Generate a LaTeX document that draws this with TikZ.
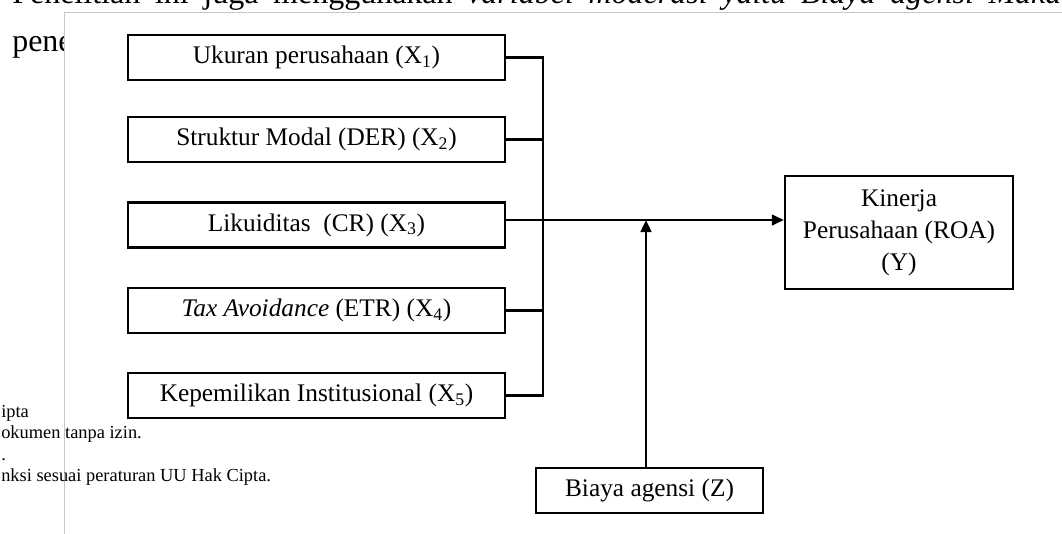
\documentclass[tikz,border=0pt]{standalone}
\usepackage{fontspec}
\setmainfont{Liberation Serif}
\usetikzlibrary{arrows.meta}
\begin{document}
\begin{tikzpicture}[x=0.75pt,y=-0.75pt,
  box/.style={draw, line width=1.8pt, inner sep=0pt, align=center, font=\fontsize{19}{24}\selectfont},
  link/.style={line width=1.8pt},
  arr/.style={line width=1.8pt, -{Triangle[length=9pt,width=8pt]}},
  frame/.style={draw=black!22, line width=0.75pt, fill=white},
  bgtext/.style={inner sep=0pt, anchor=base west, font=\fontsize{24}{28}\selectfont},
  foot/.style={inner sep=0pt, anchor=base west, font=\fontsize{13.8}{16}\selectfont}]
\useasboundingbox (0,0) rectangle (1062,533);
% page text behind the figure
\node[bgtext] (top) at (12,3) {\spaceskip=11pt Penelitian ini juga menggunakan \textit{variabel moderasi yaitu Biaya agensi Maka}};
\node[bgtext] (pene) at (12,51) {penelitian};
\path[frame] (64,12) rectangle (1080,545);
% footer text
\node[foot] (f1) at (1,417) {ipta};
\node[foot] (f2) at (1,438.5) {okumen tanpa izin.};
\node[foot] (f3) at (1,460) {.};
\node[foot] (f4) at (1,481.5) {nksi sesuai peraturan UU Hak Cipta.};
% boxes
\node[box, minimum width=282.75pt, minimum height=33.75pt] (x1) at (316.5,57.5) {Ukuran perusahaan (X\textsubscript{1})};
\node[box, minimum width=282.75pt, minimum height=33.75pt] (x2) at (316.5,139.5) {Struktur Modal (DER) (X\textsubscript{2})};
\node[box, minimum width=282.75pt, minimum height=33.75pt] (x3) at (316.5,225) {Likuiditas \ (CR) (X\textsubscript{3})};
\node[box, minimum width=282.75pt, minimum height=33.75pt] (x4) at (316.5,310.5) {\textit{Tax Avoidance} (ETR) (X\textsubscript{4})};
\node[box, minimum width=282.75pt, minimum height=33.75pt] (x5) at (316.5,395.5) {Kepemilikan Institusional (X\textsubscript{5})};
\node[box, minimum width=171pt, minimum height=84.75pt] (k) at (899,232.5) {Kinerja\\Perusahaan (ROA)\\(Y)};
\node[box, minimum width=170.25pt, minimum height=33.75pt] (z) at (649.5,490.5) {Biaya agensi (Z)};
% connectors
\coordinate (J) at (543,220);
\coordinate (A) at (646,220);
\draw[link] (x1.east) -| (J);
\draw[link] (x5.east) -| (J);
\draw[link] (x2.east) -- (x2.east -| J);
\draw[link] (x4.east) -- (x4.east -| J);
\draw[arr] (x3.east |- J) -- (k.west |- J);
\draw[arr] (z.north -| A) -- (A);
\end{tikzpicture}
\end{document}
